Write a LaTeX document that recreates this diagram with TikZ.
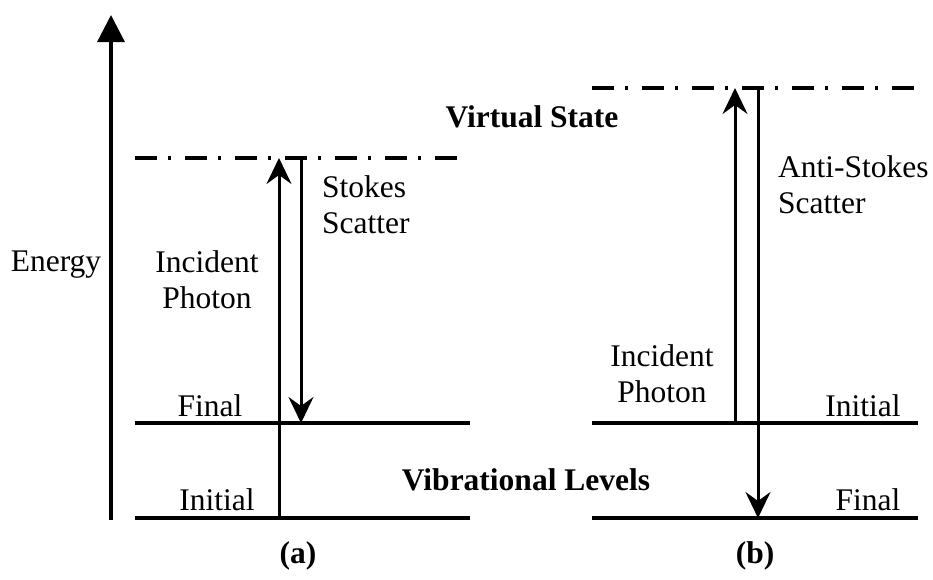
\documentclass[tikz,border=0pt]{standalone}
\usepackage{fontspec}
\setmainfont{Liberation Serif}
\usetikzlibrary{arrows.meta}
\tikzset{
  every node/.style={font=\fontsize{31.5}{36}\selectfont,inner sep=0pt},
  level/.style={line width=3.2pt},
  virtual/.style={line width=3.2pt,dash pattern=on 22pt off 11pt on 3pt off 14pt},
  photon/.style={line width=3pt,-{Stealth[length=26pt,width=25pt,inset=9pt]}},
  axis/.style={line width=3.2pt,-{Triangle[length=27pt,width=27pt]}},
  heading/.style={font=\fontsize{31.5}{36}\selectfont\bfseries}}
\begin{document}
\begin{tikzpicture}[x=1pt,y=-1pt]
\useasboundingbox (0,0) rectangle (933,579);
% energy axis
\coordinate (e0) at (111,520);
\coordinate (e1) at (111,15);
\draw[axis] (e0) -- (e1);
\node (energy) at (56,265) {Energy};
% (a) Stokes
\coordinate (va0) at (135,158); \coordinate (va1) at (463,158);
\coordinate (fa0) at (135,423); \coordinate (fa1) at (470,423);
\coordinate (ia0) at (135,518); \coordinate (ia1) at (470,518);
\draw[virtual] (va0) -- (va1);
\draw[level] (fa0) -- (fa1);
\draw[level] (ia0) -- (ia1);
\coordinate (inA) at (279,518); \coordinate (topA) at (279,158);
\coordinate (scA) at (301,158); \coordinate (endA) at (301,423);
\draw[photon] (inA) -- (topA);
\draw[photon] (scA) -- (endA);
\node[align=center] (incA) at (207,280) {Incident\\Photon};
\node[align=left,anchor=west] (stokes) at (322,205) {Stokes\\Scatter};
\node (finA) at (210,406) {Final};
\node (iniA) at (217,500) {Initial};
\node[heading] (lblA) at (298,556) {(a)};
% shared labels
\node[heading] (virt) at (532,117) {Virtual State};
\node[heading] (vib) at (526,480) {Vibrational Levels};
% (b) anti-Stokes
\coordinate (vb0) at (592,88); \coordinate (vb1) at (918,88);
\coordinate (ib0) at (592,423); \coordinate (ib1) at (918,423);
\coordinate (fb0) at (592,518); \coordinate (fb1) at (918,518);
\draw[virtual] (vb0) -- (vb1);
\draw[level] (ib0) -- (ib1);
\draw[level] (fb0) -- (fb1);
\coordinate (inB) at (735,423); \coordinate (topB) at (735,88);
\coordinate (scB) at (758,88); \coordinate (endB) at (758,518);
\draw[photon] (inB) -- (topB);
\draw[photon] (scB) -- (endB);
\node[align=center] (incB) at (662,374) {Incident\\Photon};
\node[align=left,anchor=west] (anti) at (778,185) {Anti-Stokes\\Scatter};
\node (iniB) at (863,406) {Initial};
\node (finB) at (868,500) {Final};
\node[heading] (lblB) at (755,556) {(b)};
\end{tikzpicture}
\end{document}
